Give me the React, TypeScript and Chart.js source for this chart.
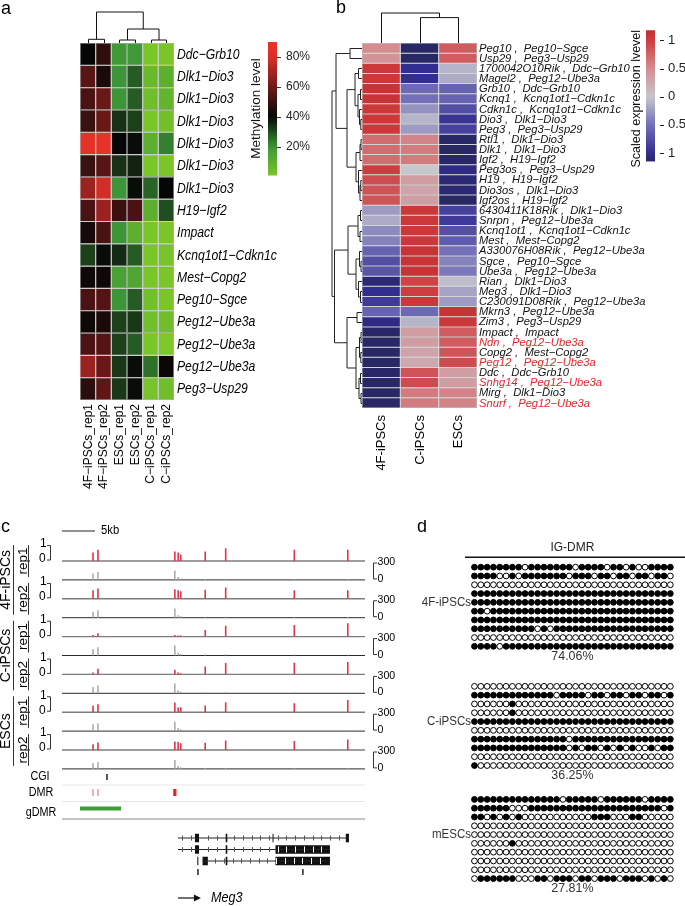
import React, { useEffect, useRef } from "react";
import { Chart, registerables } from "chart.js";

Chart.register(...registerables);

const FONT = "'Liberation Sans', Arial, Helvetica, sans-serif";

/* ---------------- Panel a: methylation heatmap ---------------- */
const aColumns = ["4F−iPSCs_rep1", "4F−iPSCs_rep2", "ESCs_rep1", "ESCs_rep2", "C−iPSCs_rep1", "C−iPSCs_rep2"];
const aRegions = [
  "Ddc−Grb10", "Dlk1−Dio3", "Dlk1−Dio3", "Dlk1−Dio3", "Dlk1−Dio3", "Dlk1−Dio3", "Dlk1−Dio3",
  "H19−Igf2", "Impact", "Kcnq1ot1−Cdkn1c", "Mest−Copg2", "Peg10−Sgce",
  "Peg12−Ube3a", "Peg12−Ube3a", "Peg12−Ube3a", "Peg3−Usp29",
];
// methylation level (%) per region (rows) x sample (columns)
const aMethylation = [
  [40, 48, 19, 19, 1, 1],
  [56, 44, 20, 28, 6, 10],
  [53, 59, 20, 28, 4, 8],
  [50, 59, 34, 32, 1, 3],
  [85, 87, 40, 39, 10, 23],
  [50, 56, 34, 36, 1, 1],
  [68, 78, 20, 39, 27, 40],
  [53, 68, 50, 53, 10, 30],
  [43, 53, 20, 10, 1, 1],
  [32, 39, 35, 28, 1, 2],
  [42, 42, 16, 14, 1, 1],
  [53, 55, 20, 28, 3, 1],
  [42, 44, 32, 33, 3, 4],
  [53, 55, 32, 28, 1, 0],
  [68, 59, 33, 39, 25, 41],
  [47, 57, 33, 39, 2, 4],
];
const aColorbarTicks = [20, 40, 60, 80];
const aColorbarRange = [1, 90];
// column dendrogram merges: [childA, childB, height]; leaves 0..5, merge k -> node 6+k
const aColumnTree = [
  [0, 1, 3.7],
  [2, 3, 3],
  [4, 5, 3],
  [7, 8, 14],
  [6, 9, 31],
];

/* ---------------- Panel b: expression heatmap ---------------- */
const bSamples = ["4F-iPSCs", "C-iPSCs", "ESCs"];
const bGenes = [
  "Peg10", "Usp29", "1700042O10Rik", "Magel2", "Grb10", "Kcnq1", "Cdkn1c", "Dio3", "Peg3",
  "Rtl1", "Dlk1", "Igf2", "Peg3os", "H19", "Dio3os", "Igf2os",
  "6430411K18Rik", "Snrpn", "Kcnq1ot1", "Mest", "A330076H08Rik", "Sgce", "Ube3a", "Rian", "Meg3", "C230091D08Rik",
  "Mkrn3", "Zim3", "Impact", "Ndn", "Copg2", "Peg12", "Ddc", "Snhg14", "Mirg", "Snurf",
];
const bRegions = [
  "Peg10−Sgce", "Peg3−Usp29", "Ddc−Grb10", "Peg12−Ube3a", "Ddc−Grb10", "Kcnq1ot1−Cdkn1c", "Kcnq1ot1−Cdkn1c", "Dlk1−Dio3", "Peg3−Usp29",
  "Dlk1−Dio3", "Dlk1−Dio3", "H19−Igf2", "Peg3−Usp29", "H19−Igf2", "Dlk1−Dio3", "H19−Igf2",
  "Dlk1−Dio3", "Peg12−Ube3a", "Kcnq1ot1−Cdkn1c", "Mest−Copg2", "Peg12−Ube3a", "Peg10−Sgce", "Peg12−Ube3a", "Dlk1−Dio3", "Dlk1−Dio3", "Peg12−Ube3a",
  "Peg12−Ube3a", "Peg3−Usp29", "Impact", "Peg12−Ube3a", "Mest−Copg2", "Peg12−Ube3a", "Ddc−Grb10", "Peg12−Ube3a", "Dlk1−Dio3", "Peg12−Ube3a",
];
const bHighlighted = ["Ndn", "Peg12", "Snhg14", "Snurf"];
// scaled expression: [4F-iPSCs, C-iPSCs, ESCs]
const bExpression = [
  [0.5, -1.15, 0.8], [0.45, -1.15, 0.8], [1.05, -1.0, -0.1], [1.05, -1.0, -0.15],
  [1.1, -0.55, -0.6], [1.1, -0.5, -0.6], [1.05, -0.3, -0.75], [1.05, -0.1, -0.95], [1.05, -0.25, -0.85],
  [0.7, 0.55, -1.15], [0.7, 0.6, -1.15], [0.7, 0.6, -1.15], [1.0, 0.0, -1.05], [0.9, 0.35, -1.1],
  [0.85, 0.3, -1.1], [0.85, 0.35, -1.15],
  [-0.25, 1.05, -0.85], [-0.15, 1.05, -0.9], [-0.35, 1.05, -0.75], [-0.4, 1.05, -0.65],
  [-0.6, 1.1, -0.5], [-0.75, 1.1, -0.4], [-0.7, 1.1, -0.45], [-1.1, 0.95, -0.05], [-1.0, 1.0, -0.2],
  [-0.9, 1.05, -0.25],
  [-0.6, -0.55, 1.1], [-1.05, -0.1, 1.05], [-1.15, 0.35, 0.8], [-1.15, 0.35, 0.8], [-1.15, 0.3, 0.85],
  [-1.15, 0.25, 0.9], [-1.15, 0.85, 0.35], [-1.15, 0.9, 0.35], [-1.15, 0.6, 0.55], [-1.15, 0.6, 0.55],
];
const bColorbarTicks = [1, 0.5, 0, -0.5, -1];
const bColorbarRange = [-1.15, 1.18];
const bColumnTree = [
  [1, 2, 25.4],
  [0, 3, 30],
];
// row dendrogram merges; leaves 0..35, merge k -> node 36+k
const bRowTree = [
  [0, 1, 12], [2, 3, 3.5], [4, 5, 1.5], [7, 8, 1.2], [6, 39, 2.5], [38, 40, 4], [37, 41, 7],
  [9, 10, 1], [43, 11, 2], [13, 14, 1.2], [45, 15, 2], [12, 46, 3.5], [44, 47, 6], [42, 48, 15],
  [36, 49, 26],
  [16, 17, 1.5], [18, 19, 2], [51, 52, 4], [21, 22, 1], [20, 54, 2.5], [24, 25, 1.5], [23, 56, 3.5],
  [55, 57, 6], [53, 58, 14],
  [26, 27, 5], [28, 29, 1], [30, 31, 1.2], [61, 62, 2.5], [32, 33, 1.5], [34, 35, 1], [64, 65, 3],
  [63, 66, 6], [60, 67, 15], [59, 68, 27.5], [50, 69, 30],
];

/* ---------------- Panel c: genome browser tracks ---------------- */
const cSamples = ["4F-iPSCs", "C-iPSCs", "ESCs"];
const cReplicates = ["rep1", "rep2"];
const cCpgKb = [4.7, 5.45, 17.1, 17.6, 18.0, 21.7, 24.8, 35.2, 43.3];
const cMeth4FRep1 = [0.45, 0.6, 0.5, 0.45, 0.35, 0.5, 0.68, 0.6, 0.6];
const cMeth4FRep2 = [0.45, 0.55, 0.5, 0.45, 0.4, 0.48, 0.6, 0.45, 0.45];
const cMethCRep1 = [0.09, 0.18, 0.08, 0.06, 0.06, 0.35, 0.58, 0.62, 0.7];
const cMethCRep2 = [0.1, 0.3, 0.25, 0.1, 0.05, 0.42, 0.6, 0.62, 0.65];
const cMethESCRep1 = [0.34, 0.42, 0.51, 0.25, 0.26, 0.35, 0.53, 0.48, 0.65];
const cMethESCRep2 = [0.3, 0.4, 0.45, 0.42, 0.36, 0.38, 0.5, 0.47, 0.55];
const cCov4FRep1 = [100, 125, 150, 45, 25, 15, 18, 12, 10];
const cCov4FRep2 = [95, 120, 145, 40, 25, 15, 15, 12, 10];
const cCovCRep1 = [105, 130, 160, 45, 25, 15, 20, 15, 12];
const cCovCRep2 = [100, 125, 155, 45, 25, 15, 18, 14, 12];
const cCovESCRep1 = [110, 120, 150, 50, 30, 15, 18, 12, 10];
const cCovESCRep2 = [95, 110, 140, 45, 25, 15, 15, 12, 10];
const cMethAxisTicks = [1, 0];
const cCovAxisTicks = [300, 0];
const cCgiKb = [6.82];
const cDmrKb = [4.7, 5.45];
const cDmrStrongKb = [17.1];
const cGdmrKb = [2.73, 8.94];
const cScaleBarKb = 5;
const cMeg3Tx1 = { span: [17.58, 43.48], exons: [[20.15, 20.76], [24.8, 25.05], [31.9, 32.05], [43.0, 43.48]] };
const cMeg3Tx2 = { span: [17.58, 40.6], exons: [[20.15, 20.76], [24.8, 25.05], [32.35, 40.6]] };
const cMeg3Tx3 = { span: [21.3, 40.6], exons: [[20.5, 20.66], [21.3, 22.1], [24.8, 25.05], [32.35, 40.6]] };
const cMeg3Marks = [20.6, 36.5];
const cGeneArrowKb = [17.58, 20.6];

/* ---------------- Panel d: bisulfite sequencing ---------------- */
// each row: [majority state (1 = methylated), indices of CpGs with the other state]
const dCpgCount = 32;
const d4FiPSCs = [
  [1, [8, 16, 21, 24, 26, 27]], [1, [4, 5, 7, 15, 19, 22, 25, 28, 31]], [0, []], [1, []], [1, []],
  [1, [2]], [1, []], [1, [10, 12]], [0, []], [1, [4]],
];
const dCiPSCs = [
  [0, []], [1, [13, 18, 21, 24, 27, 30]], [0, [6]], [0, [6]], [1, []],
  [0, []], [1, [15]], [1, [15, 17, 20, 22, 24, 26, 27, 29]], [0, []], [0, [0]],
];
const dmESCs = [
  [1, [14, 20, 27]], [1, [6, 7, 8, 30]], [0, [0, 1, 3, 5, 7, 19, 20, 21, 25, 26]], [0, []], [0, []],
  [0, [6]], [0, []], [0, []], [0, []], [1, [0, 7, 8, 9, 12, 16, 19, 23, 27, 29, 31]],
];
const dGroups = ["4F-iPSCs", "C-iPSCs", "mESCs"];
const dPercent = ["74.06%", "36.25%", "27.81%"];
const dTitle = "IG-DMR";

/* ---------------- helpers ---------------- */
type Stop = [number, number[]];
const A_STOPS: Stop[] = [
  [0, [125, 200, 40]], [20, [60, 150, 55]], [40, [6, 6, 6]], [60, [110, 25, 25]], [80, [220, 48, 40]], [90, [235, 52, 40]],
];
const B_STOPS: Stop[] = [
  [-1.2, [38, 38, 88]], [-1.0, [50, 45, 145]], [-0.5, [115, 112, 185]], [0, [198, 198, 205]],
  [0.5, [212, 140, 145]], [1.0, [205, 60, 62]], [1.2, [195, 45, 45]],
];
function ramp(stops: Stop[], v: number): string {
  const rgb = (c: number[]) => `rgb(${c.map((x) => Math.round(x)).join(",")})`;
  if (v <= stops[0][0]) return rgb(stops[0][1]);
  for (let i = 1; i < stops.length; i++) {
    if (v <= stops[i][0]) {
      const [v0, c0] = stops[i - 1];
      const [v1, c1] = stops[i];
      const t = (v - v0) / (v1 - v0);
      return rgb(c0.map((c, k) => c + (c1[k] - c) * t));
    }
  }
  return rgb(stops[stops.length - 1][1]);
}

function txt(
  ctx: CanvasRenderingContext2D, s: string, x: number, y: number,
  o: { size: number; italic?: boolean; align?: CanvasTextAlign; baseline?: CanvasTextBaseline; color?: string; sx?: number; rot?: number }
) {
  ctx.save();
  ctx.translate(x, y);
  if (o.rot) ctx.rotate(o.rot);
  ctx.scale(o.sx ?? 1, 1);
  ctx.font = `${o.italic ? "italic " : ""}${o.size}px ${FONT}`;
  ctx.textAlign = o.align ?? "left";
  ctx.textBaseline = o.baseline ?? "middle";
  ctx.fillStyle = o.color ?? "#000";
  ctx.fillText(s, 0, 0);
  ctx.restore();
}

function drawTree(
  ctx: CanvasRenderingContext2D, merges: number[][], nLeaves: number,
  leafPos: (i: number) => number, base: number, dir: "up" | "left"
) {
  const pos: number[] = [];
  const hgt: number[] = [];
  for (let i = 0; i < nLeaves; i++) { pos[i] = leafPos(i); hgt[i] = 0; }
  ctx.beginPath();
  merges.forEach(([a, b, h], k) => {
    const id = nLeaves + k;
    pos[id] = (pos[a] + pos[b]) / 2;
    hgt[id] = h;
    if (dir === "up") {
      ctx.moveTo(pos[a], base - hgt[a]); ctx.lineTo(pos[a], base - h);
      ctx.lineTo(pos[b], base - h); ctx.lineTo(pos[b], base - hgt[b]);
    } else {
      ctx.moveTo(base - hgt[a], pos[a]); ctx.lineTo(base - h, pos[a]);
      ctx.lineTo(base - h, pos[b]); ctx.lineTo(base - hgt[b], pos[b]);
    }
  });
  ctx.stroke();
}

const baseOptions = {
  animation: false as const,
  responsive: false,
  devicePixelRatio: 1,
  events: [] as any[],
  plugins: { legend: { display: false }, tooltip: { enabled: false }, title: { display: false } },
};

/* ---------------- panel a config ---------------- */
function makePanelA(): any {
  const datasets = aRegions.map((r, i) => ({
    label: r,
    data: aColumns.map(() => 1),
    backgroundColor: aMethylation[i].map((v) => ramp(A_STOPS, v)),
    borderColor: "#8a8a8a",
    borderWidth: 0.6,
    borderSkipped: false,
    inflateAmount: 0,
    barPercentage: 1,
    categoryPercentage: 1,
  }));
  const decor = {
    id: "decorA",
    afterDraw(chart: any) {
      const { ctx, chartArea: ca, scales } = chart;
      const x = scales.x, y = scales.y;
      ctx.save();
      txt(ctx, "a", 1, 9, { size: 18 });
      ctx.strokeStyle = "#111";
      ctx.lineWidth = 1;
      drawTree(ctx, aColumnTree, aColumns.length, (j) => Math.round(x.getPixelForValue(j)) + 0.5, ca.top, "up");
      aRegions.forEach((r, i) =>
        txt(ctx, r, ca.right + 3, y.getPixelForValue(i + 0.5) + 0.5, { size: 14.5, italic: true, sx: 0.84 })
      );
      aColumns.forEach((c, j) =>
        txt(ctx, c, x.getPixelForValue(j) + 0.5, ca.bottom + 4, { size: 12, align: "right", rot: -Math.PI / 2 })
      );
      // colour key
      const cbX = 268, cbW = 9;
      const py = (p: number) => 177 - p * 1.5;
      const g = ctx.createLinearGradient(0, py(aColorbarRange[1]), 0, py(aColorbarRange[0]));
      for (let s = 0; s <= 20; s++) {
        const v = aColorbarRange[1] - (s / 20) * (aColorbarRange[1] - aColorbarRange[0]);
        g.addColorStop(s / 20, ramp(A_STOPS, v));
      }
      ctx.fillStyle = g;
      ctx.fillRect(cbX, py(aColorbarRange[1]), cbW, py(aColorbarRange[0]) - py(aColorbarRange[1]));
      ctx.strokeStyle = "#333";
      aColorbarTicks.forEach((t) => {
        ctx.beginPath();
        ctx.moveTo(cbX + cbW, Math.round(py(t)) + 0.5);
        ctx.lineTo(cbX + cbW + 4, Math.round(py(t)) + 0.5);
        ctx.stroke();
        txt(ctx, `${t}%`, cbX + cbW + 9, py(t), { size: 12, color: "#222" });
      });
      txt(ctx, "Methylation level", 256, 108.5, { size: 13.5, align: "center", rot: -Math.PI / 2, color: "#111" });
      ctx.restore();
    },
  };
  return {
    type: "bar",
    data: { labels: aColumns, datasets },
    options: {
      ...baseOptions,
      layout: { padding: { left: 80, right: 320 - 174, top: 43, bottom: 520 - 400 } },
      scales: {
        x: { stacked: true, display: false },
        y: { stacked: true, display: false, min: 0, max: aRegions.length, reverse: true },
      },
    },
    plugins: [decor],
  };
}

/* ---------------- panel b config ---------------- */
const B_LEFT = 320; // canvas left in page
function makePanelB(): any {
  const datasets = bGenes.map((gname, i) => ({
    label: gname,
    data: bSamples.map(() => 1),
    backgroundColor: bExpression[i].map((v) => ramp(B_STOPS, v)),
    borderColor: "#9a9a9a",
    borderWidth: 0.5,
    borderSkipped: false,
    inflateAmount: 0,
    barPercentage: 1,
    categoryPercentage: 1,
  }));
  const decor = {
    id: "decorB",
    afterDraw(chart: any) {
      const { ctx, chartArea: ca, scales } = chart;
      const x = scales.x, y = scales.y;
      ctx.save();
      txt(ctx, "b", 336 - B_LEFT, 8, { size: 18 });
      ctx.strokeStyle = "#111";
      ctx.lineWidth = 1;
      drawTree(ctx, bColumnTree, bSamples.length, (j) => Math.round(x.getPixelForValue(j)) + 0.5, ca.top, "up");
      ctx.strokeStyle = "#222";
      drawTree(ctx, bRowTree, bGenes.length, (i) => Math.round(y.getPixelForValue(i + 0.5)) + 0.5, ca.left, "left");
      bGenes.forEach((gname, i) => {
        const red = bHighlighted.includes(gname);
        txt(ctx, `${gname} ,  ${bRegions[i]}`, ca.right + 2, y.getPixelForValue(i + 0.5) + 0.5, {
          size: 11.2, italic: true, color: red ? "#e3262b" : "#111",
        });
      });
      bSamples.forEach((s, j) =>
        txt(ctx, s, x.getPixelForValue(j) + 0.5, ca.bottom + 7, { size: 13, align: "right", rot: -Math.PI / 2 })
      );
      // colour key
      const cbX = 646 - B_LEFT, cbW = 9;
      const py = (v: number) => 96.7 - v * 56.3;
      const g = ctx.createLinearGradient(0, py(bColorbarRange[1]), 0, py(bColorbarRange[0]));
      for (let s = 0; s <= 20; s++) {
        const v = bColorbarRange[1] - (s / 20) * (bColorbarRange[1] - bColorbarRange[0]);
        g.addColorStop(s / 20, ramp(B_STOPS, v));
      }
      ctx.fillStyle = g;
      ctx.fillRect(cbX, py(bColorbarRange[1]), cbW, py(bColorbarRange[0]) - py(bColorbarRange[1]));
      ctx.strokeStyle = "#222";
      bColorbarTicks.forEach((t) => {
        const yy = Math.round(py(t)) + 0.5;
        ctx.beginPath();
        ctx.moveTo(cbX + cbW + 5, yy);
        ctx.lineTo(cbX + cbW + 9, yy);
        ctx.stroke();
        txt(ctx, `${Math.abs(t)}`, cbX + cbW + 13, py(t), { size: 13, color: "#222" });
      });
      txt(ctx, "Scaled expression lvevel", 637 - B_LEFT, 98.7, { size: 12.5, align: "center", rot: -Math.PI / 2, color: "#111" });
      ctx.restore();
    },
  };
  return {
    type: "bar",
    data: { labels: bSamples, datasets },
    options: {
      ...baseOptions,
      layout: { padding: { left: 362 - B_LEFT, right: 685 - 477, top: 43, bottom: 520 - 408 } },
      scales: {
        x: { stacked: true, display: false },
        y: { stacked: true, display: false, min: 0, max: bGenes.length, reverse: true },
      },
    },
    plugins: [decor],
  };
}

/* ---------------- panel c config ---------------- */
const C_TOP = 520; // canvas top (page)
const C_PX_PER_KB = 6.6;
const C_X0 = 62; // page x of 0 kb
const C_TRACK_H = 18.9;
const C_TRACK_TOP = 542.1; // page y of top of first track
const C_W = 400, C_H = 386;
const C_TRACK_END = (365 - C_X0) / C_PX_PER_KB;
const cy = (pageY: number) => -(pageY - C_TRACK_TOP) / C_TRACK_H; // layout rows -> track units

function makePanelC(): any {
  const meth = [cMeth4FRep1, cMeth4FRep2, cMethCRep1, cMethCRep2, cMethESCRep1, cMethESCRep2];
  const cov = [cCov4FRep1, cCov4FRep2, cCovCRep1, cCovCRep2, cCovESCRep1, cCovESCRep2];
  const methPts: any[] = [], covPts: any[] = [], methBase: any[] = [], covBase: any[] = [];
  meth.forEach((vals, s) => {
    const mb = -(2 * s + 1);
    const cb = -(2 * s + 2);
    methBase.push({ x: 0, y: mb }, { x: C_TRACK_END, y: mb }, { x: 0, y: null });
    covBase.push({ x: 0, y: cb }, { x: C_TRACK_END, y: cb }, { x: 0, y: null });
    vals.forEach((v, i) => methPts.push({ x: cCpgKb[i], y: mb }, { x: cCpgKb[i], y: mb + v * cMethAxisTicks[0] }, { x: cCpgKb[i], y: null }));
    cov[s].forEach((v, i) => covPts.push({ x: cCpgKb[i], y: cb }, { x: cCpgKb[i], y: cb + v / cCovAxisTicks[0] }, { x: cCpgKb[i], y: null }));
  });
  const seg = (x0: number, x1: number, yy: number) => [{ x: x0, y: yy }, { x: x1, y: yy }, { x: x1, y: null }];
  const vseg = (xx: number, y0: number, y1: number) => [{ x: xx, y: y0 }, { x: xx, y: y1 }, { x: xx, y: null }];
  const line = (data: any[], color: string, width: number) => ({
    data, showLine: true, borderColor: color, borderWidth: width, pointRadius: 0, spanGaps: false, borderCapStyle: "butt",
  });
  const txs = [cMeg3Tx1, cMeg3Tx2, cMeg3Tx3];
  const txY = [cy(838), cy(849.5), cy(861)];
  const introns: any[] = [], exons: any[] = [];
  txs.forEach((t, k) => {
    introns.push(...seg(t.span[0], t.span[1], txY[k]));
    t.exons.forEach((e) => exons.push(...seg(e[0], e[1], txY[k])));
  });
  const marks: any[] = [];
  cMeg3Marks.forEach((m) => marks.push(...vseg(m, cy(869), cy(875))));
  const datasets = [
    line(methPts, "#e2334a", 1.6),
    line(covPts, "#a2a2a2", 1.4),
    line(methBase, "#7d7d7d", 1.4),
    line(covBase, "#2a2a2a", 1),
    line([...seg(0, C_TRACK_END, cy(785)), ...seg(0, C_TRACK_END, cy(801.5))], "#e6e6e6", 1),
    line(seg(0, C_TRACK_END, cy(819)), "#8a8a8a", 1.2),
    line(cCgiKb.flatMap((k) => vseg(k, cy(774), cy(780))), "#111", 1.4),
    line(cDmrKb.flatMap((k) => vseg(k, cy(789), cy(796))), "#f2a5ad", 1),
    line(cDmrStrongKb.flatMap((k) => vseg(k, cy(789), cy(796))), "#e8202a", 3.2),
    line(seg(cGdmrKb[0], cGdmrKb[1], cy(808.5)), "#3f9e3a", 4.2),
    line(introns, "#222", 1),
    line(exons, "#111", 8.5),
    line(marks, "#444", 1),
    line(seg(cGeneArrowKb[0], cGeneArrowKb[1], cy(898)), "#111", 1.2),
    line(seg(0, cScaleBarKb, cy(531)), "#222", 1),
  ];
  const decor = {
    id: "decorC",
    afterDraw(chart: any) {
      const { ctx, scales } = chart;
      const x = scales.x, y = scales.y;
      const oy = -C_TOP; // page -> canvas
      ctx.save();
      txt(ctx, "c", 1, 527 + oy, { size: 18 });
      txt(ctx, "5kb", x.getPixelForValue(cScaleBarKb) + 6, 531 + oy, { size: 12.5, sx: 0.9 });
      // axis brackets
      ctx.strokeStyle = "#333";
      ctx.lineWidth = 1;
      for (let s = 0; s < 6; s++) {
        const mTop = y.getPixelForValue(-(2 * s)), mBot = y.getPixelForValue(-(2 * s + 1));
        const cBot = y.getPixelForValue(-(2 * s + 2));
        ctx.beginPath();
        ctx.moveTo(47, mTop + 3.5); ctx.lineTo(50.5, mTop + 3.5); ctx.lineTo(50.5, mBot - 1); ctx.lineTo(47, mBot - 1);
        ctx.stroke();
        txt(ctx, `${cMethAxisTicks[0]}`, 40, mTop + 2, { size: 12 });
        txt(ctx, `${cMethAxisTicks[1]}`, 39, mBot - 2, { size: 12 });
        ctx.beginPath();
        ctx.moveTo(377, mBot + 2); ctx.lineTo(373.5, mBot + 2); ctx.lineTo(373.5, cBot - 1); ctx.lineTo(377, cBot - 1);
        ctx.stroke();
        txt(ctx, `${cCovAxisTicks[0]}`, 377.5, mBot + 1, { size: 11.5, sx: 0.92 });
        txt(ctx, `${cCovAxisTicks[1]}`, 377.5, cBot - 1, { size: 11.5, sx: 0.92 });
      }
      // sample / replicate labels
      cSamples.forEach((sname, s) => {
        const top = y.getPixelForValue(-4 * s), bot = y.getPixelForValue(-4 * s - 4);
        txt(ctx, sname, 6, (top + bot) / 2, { size: 14, align: "center", rot: -Math.PI / 2 });
        ctx.beginPath();
        ctx.moveTo(13.5, top + 3); ctx.lineTo(13.5, bot - 3);
        ctx.stroke();
        cReplicates.forEach((r, k) => {
          const rt = y.getPixelForValue(-4 * s - 2 * k), rb = y.getPixelForValue(-4 * s - 2 * k - 2);
          txt(ctx, r, 23.5, (rt + rb) / 2, { size: 13.5, align: "center", rot: -Math.PI / 2 });
          ctx.beginPath();
          ctx.moveTo(28.5, rt + 3); ctx.lineTo(28.5, rb - 3);
          ctx.stroke();
        });
      });
      txt(ctx, "CGI", 40, 777 + oy, { size: 12, align: "center", sx: 0.9 });
      txt(ctx, "DMR", 41, 793 + oy, { size: 12, align: "center", sx: 0.9 });
      txt(ctx, "gDMR", 41, 813 + oy, { size: 12, align: "center", sx: 0.9 });
      // intron direction ticks and white ticks in wide exons
      txs.forEach((t, k) => {
        const yy = y.getPixelForValue(txY[k]);
        const x0 = x.getPixelForValue(t.span[0]), x1 = x.getPixelForValue(t.span[1]);
        for (let px = x0 + 4; px < x1 - 2; px += 8.7) {
          const kb = x.getValueForPixel(px);
          const inExon = t.exons.find((e) => kb >= e[0] - 0.2 && kb <= e[1] + 0.2);
          ctx.strokeStyle = inExon ? (inExon[1] - inExon[0] > 2 ? "#fff" : "transparent") : "#555";
          ctx.beginPath();
          ctx.moveTo(Math.round(px) + 0.5, yy - (inExon ? 3 : 2.5));
          ctx.lineTo(Math.round(px) + 0.5, yy + (inExon ? 3 : 2.5));
          ctx.stroke();
        }
      });
      // arrow head + gene name
      const ax = x.getPixelForValue(cGeneArrowKb[1]), ay = y.getPixelForValue(cy(898));
      ctx.fillStyle = "#111";
      ctx.beginPath();
      ctx.moveTo(ax + 3, ay); ctx.lineTo(ax - 4, ay - 3.5); ctx.lineTo(ax - 4, ay + 3.5); ctx.closePath();
      ctx.fill();
      txt(ctx, "Meg3", ax + 13, ay, { size: 14, italic: true, sx: 0.9 });
      ctx.restore();
    },
  };
  return {
    type: "scatter",
    data: { datasets },
    options: {
      ...baseOptions,
      layout: { padding: 0 },
      scales: {
        x: { type: "linear", display: false, min: -C_X0 / C_PX_PER_KB, max: (C_W - C_X0) / C_PX_PER_KB },
        y: { type: "linear", display: false, min: cy(C_TOP + C_H), max: cy(C_TOP) },
      },
    },
    plugins: [decor],
  };
}

/* ---------------- panel d config ---------------- */
const D_LEFT = 400, D_TOP = 520, D_W = 285, D_H = 386;
const D_COL0 = 472, D_DX = 6.548; // page x of first CpG and spacing
const D_ROW0 = 563.3, D_DY = 9.03; // page y of first read and spacing
const D_GROUP_OFFSET = [0, 13.55, 26.4]; // group start, in read rows

function makePanelD(): any {
  const filled: any[] = [], open: any[] = [];
  [d4FiPSCs, dCiPSCs, dmESCs].forEach((rows, g) => {
    rows.forEach(([major, flips]: any, r) => {
      for (let c = 0; c < dCpgCount; c++) {
        const state = flips.includes(c) ? 1 - major : major;
        (state ? filled : open).push({ x: c, y: D_GROUP_OFFSET[g] + r });
      }
    });
  });
  const pt = (data: any[], fill: string) => ({
    data, pointRadius: 2.9, pointBorderWidth: 1, pointBackgroundColor: fill, pointBorderColor: "#000", showLine: false,
  });
  const decor = {
    id: "decorD",
    afterDraw(chart: any) {
      const { ctx, scales } = chart;
      const x = scales.x, y = scales.y;
      const midX = x.getPixelForValue((dCpgCount - 1) / 2);
      ctx.save();
      txt(ctx, "d", 417 - D_LEFT, 527 - D_TOP, { size: 18 });
      txt(ctx, dTitle, midX, y.getPixelForValue(-2.25), { size: 13, align: "center", sx: 0.92, color: "#222" });
      ctx.strokeStyle = "#111";
      ctx.lineWidth = 1.5;
      ctx.beginPath();
      const ly = Math.round(y.getPixelForValue(-1.15)) + 0.25;
      ctx.moveTo(465 - D_LEFT, ly); ctx.lineTo(D_W, ly);
      ctx.stroke();
      dGroups.forEach((gname, g) => {
        txt(ctx, gname, x.getPixelForValue(-0.55), y.getPixelForValue(D_GROUP_OFFSET[g] + 4), { size: 12.5, align: "right", color: "#333", sx: 0.92 });
        txt(ctx, dPercent[g], midX, y.getPixelForValue(D_GROUP_OFFSET[g] + 10.15), { size: 13.5, align: "center", color: "#333", sx: 0.92 });
      });
      ctx.restore();
    },
  };
  return {
    type: "scatter",
    data: { datasets: [pt(filled, "#000"), pt(open, "#fff")] },
    options: {
      ...baseOptions,
      layout: { padding: 0 },
      scales: {
        x: { type: "linear", display: false, min: -(D_COL0 - D_LEFT) / D_DX, max: (D_LEFT + D_W - D_COL0) / D_DX },
        y: {
          type: "linear", display: false, reverse: true,
          min: -(D_ROW0 - D_TOP) / D_DY, max: (D_TOP + D_H - D_ROW0) / D_DY,
        },
      },
    },
    plugins: [decor],
  };
}

/* ---------------- components ---------------- */
function ChartCanvas(props: { left: number; top: number; width: number; height: number; make: () => any }) {
  const ref = useRef<HTMLCanvasElement>(null);
  useEffect(() => {
    const chart = new Chart(ref.current as HTMLCanvasElement, props.make());
    return () => chart.destroy();
  }, []);
  return (
    <canvas
      ref={ref}
      width={props.width}
      height={props.height}
      style={{ position: "absolute", left: props.left, top: props.top, width: props.width, height: props.height }}
    />
  );
}

export default function App() {
  return (
    <div style={{ position: "absolute", left: 0, top: 0, width: 685, height: 906, background: "#fff", overflow: "hidden" }}>
      <ChartCanvas left={0} top={0} width={320} height={520} make={makePanelA} />
      <ChartCanvas left={B_LEFT} top={0} width={685 - B_LEFT} height={520} make={makePanelB} />
      <ChartCanvas left={0} top={C_TOP} width={C_W} height={C_H} make={makePanelC} />
      <ChartCanvas left={D_LEFT} top={D_TOP} width={D_W} height={D_H} make={makePanelD} />
    </div>
  );
}
